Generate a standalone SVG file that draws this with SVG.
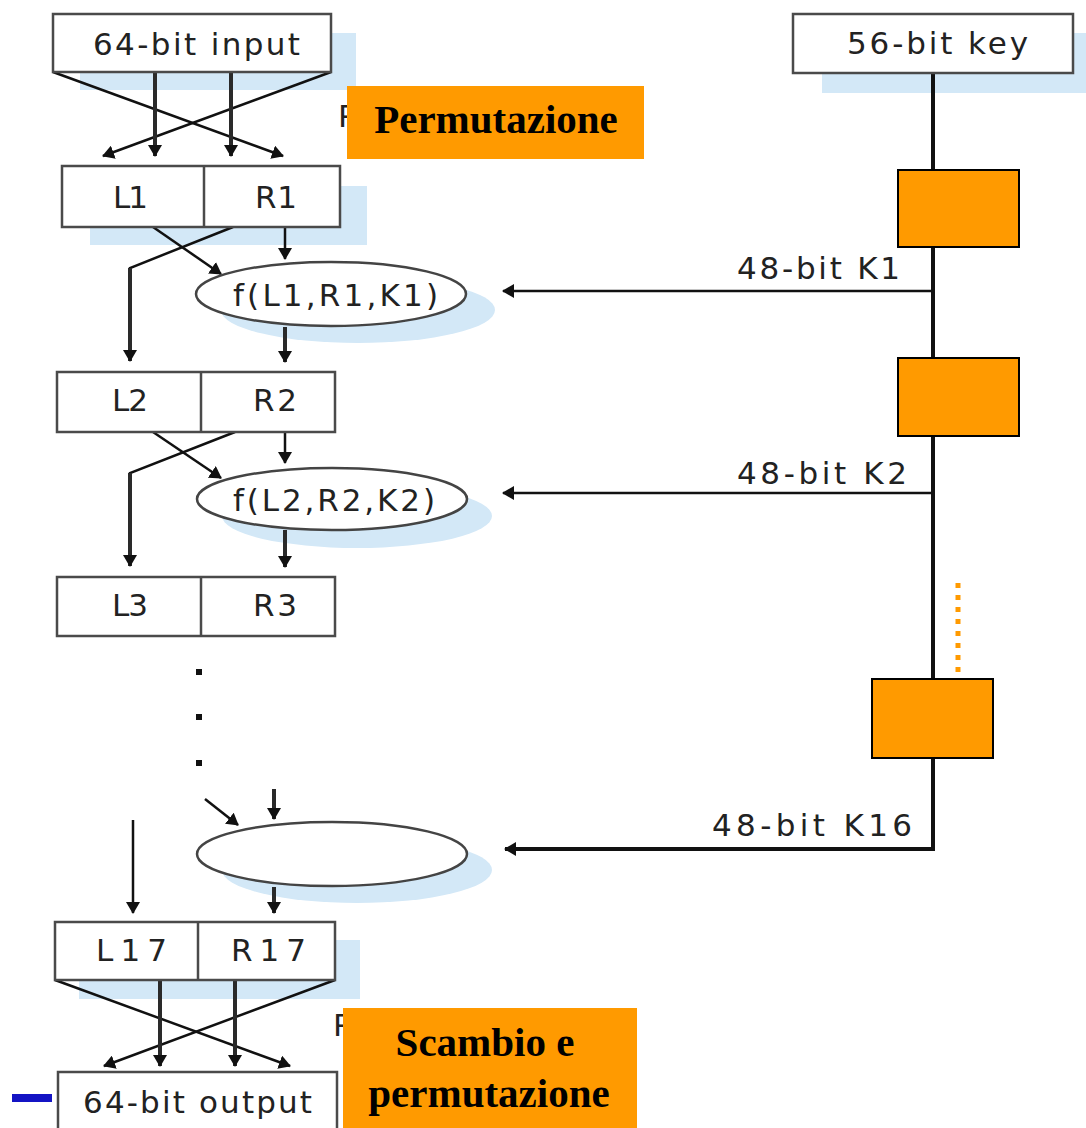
<svg xmlns="http://www.w3.org/2000/svg" width="1086" height="1128" viewBox="0 0 1086 1128">
  <style>
    .shadow { fill: #d3e8f7; stroke: none; }
    .box { fill: #ffffff; stroke: #4a4a4a; stroke-width: 2.5; }
    .fn { fill: #ffffff; stroke: #444; stroke-width: 2.5; }
    .lbl { font-family: "DejaVu Sans", "Liberation Sans", sans-serif; font-size: 31px; fill: #222; }
    .wire { fill: none; stroke: #111; stroke-width: 2.5; }
    .bus { fill: none; stroke: #2a2a2a; stroke-width: 4; }
    .key { fill: none; stroke: #111; stroke-width: 4; }
    .note { fill: #ff9a00; }
    .keybox { fill: #ff9a00; stroke: #000; stroke-width: 2; }
    .notetxt { font-family: "Liberation Serif", "Times New Roman", serif; font-weight: bold; font-size: 41px; fill: #000; }
  </style>
  <defs>
    <marker id="tip" markerUnits="userSpaceOnUse" markerWidth="12" markerHeight="14" refX="11" refY="7" orient="auto">
      <path d="M0,0 L12,7 L0,14 z" fill="#111"/>
    </marker>
  </defs>

  <!-- drop shadows -->
  <g id="shadows">
    <rect class="shadow" x="80" y="33" width="276" height="57"/>
    <rect class="shadow" x="90" y="186" width="277" height="59"/>
    <rect class="shadow" x="822" y="33" width="264" height="60"/>
    <ellipse class="shadow" cx="358" cy="310" rx="137" ry="33"/>
    <ellipse class="shadow" cx="357" cy="516" rx="135" ry="32"/>
    <ellipse class="shadow" cx="357" cy="870" rx="135" ry="33"/>
    <rect class="shadow" x="79" y="940" width="281" height="59"/>
  </g>

  <!-- connectors -->
  <g id="connectors">
    <!-- initial permutation -->
    <line class="wire" x1="53" y1="72" x2="283" y2="156" marker-end="url(#tip)"/>
    <line class="wire" x1="331" y1="72" x2="103" y2="156" marker-end="url(#tip)"/>
    <line class="bus" x1="155" y1="72" x2="155" y2="156" marker-end="url(#tip)"/>
    <line class="bus" x1="231" y1="72" x2="231" y2="156" marker-end="url(#tip)"/>
    <!-- round 1 -->
    <line class="wire" x1="153" y1="227" x2="221" y2="274" marker-end="url(#tip)"/>
    <polyline class="wire" points="233,227 130,268 130,290"/>
    <line class="bus" x1="130" y1="268" x2="130" y2="361" marker-end="url(#tip)"/>
    <line class="wire" x1="285" y1="227" x2="285" y2="259" marker-end="url(#tip)"/>
    <line class="bus" x1="285" y1="327" x2="285" y2="362" marker-end="url(#tip)"/>
    <!-- round 2 -->
    <line class="wire" x1="153" y1="432" x2="221" y2="478" marker-end="url(#tip)"/>
    <polyline class="wire" points="235,432 130,473 130,495"/>
    <line class="bus" x1="130" y1="473" x2="130" y2="566" marker-end="url(#tip)"/>
    <line class="wire" x1="285" y1="432" x2="285" y2="463" marker-end="url(#tip)"/>
    <line class="bus" x1="285" y1="530" x2="285" y2="567" marker-end="url(#tip)"/>
    <!-- round 16 -->
    <line class="wire" x1="205" y1="799" x2="238" y2="825" marker-end="url(#tip)"/>
    <line class="bus" x1="274" y1="789" x2="274" y2="819" marker-end="url(#tip)"/>
    <line class="wire" x1="133" y1="820" x2="133" y2="913" marker-end="url(#tip)"/>
    <line class="bus" x1="274" y1="887" x2="274" y2="913" marker-end="url(#tip)"/>
    <!-- swap and final permutation -->
    <line class="wire" x1="55" y1="980" x2="290" y2="1066" marker-end="url(#tip)"/>
    <line class="wire" x1="335" y1="980" x2="104" y2="1066" marker-end="url(#tip)"/>
    <line class="bus" x1="160" y1="980" x2="160" y2="1066" marker-end="url(#tip)"/>
    <line class="bus" x1="235" y1="980" x2="235" y2="1066" marker-end="url(#tip)"/>
    <!-- key schedule -->
    <polyline class="key" points="933,73 933,849 505,849" marker-end="url(#tip)"/>
    <line class="wire" x1="933" y1="291" x2="503" y2="291" marker-end="url(#tip)"/>
    <line class="wire" x1="933" y1="493" x2="503" y2="493" marker-end="url(#tip)"/>
    <line stroke="#ff9a00" stroke-width="5" stroke-dasharray="5,7" x1="958" y1="583" x2="958" y2="677"/>
    <!-- ellipsis dots -->
    <rect x="196" y="669" width="6" height="6" fill="#111"/>
    <rect x="196" y="714" width="6" height="6" fill="#111"/>
    <rect x="196" y="760" width="6" height="6" fill="#111"/>
  </g>

  <g id="input">
    <rect class="box" x="53" y="14" width="278" height="58"/>
    <text class="lbl" x="93" y="55" textLength="207" lengthAdjust="spacing">64-bit input</text>
  </g>

  <g id="key">
    <rect class="box" x="793" y="14" width="280" height="59"/>
    <text class="lbl" x="847" y="54" textLength="181" lengthAdjust="spacing">56-bit key</text>
  </g>

  <g id="lr1">
    <rect class="box" x="62" y="166" width="278" height="61"/>
    <line stroke="#4a4a4a" stroke-width="2.5" x1="204" y1="166" x2="204" y2="227"/>
    <text class="lbl" x="113" y="208" textLength="35" lengthAdjust="spacing">L1</text>
    <text class="lbl" x="255" y="208" textLength="42" lengthAdjust="spacing">R1</text>
  </g>

  <g id="f1">
    <ellipse class="fn" cx="331" cy="294" rx="135" ry="32"/>
    <text class="lbl" x="233" y="306" textLength="205" lengthAdjust="spacing">f(L1,R1,K1)</text>
  </g>

  <g id="lr2">
    <rect class="box" x="57" y="372" width="278" height="60"/>
    <line stroke="#4a4a4a" stroke-width="2.5" x1="201" y1="372" x2="201" y2="432"/>
    <text class="lbl" x="112" y="411" textLength="36" lengthAdjust="spacing">L2</text>
    <text class="lbl" x="253" y="411" textLength="44" lengthAdjust="spacing">R2</text>
  </g>

  <g id="f2">
    <ellipse class="fn" cx="332" cy="499" rx="135" ry="31"/>
    <text class="lbl" x="233" y="511" textLength="202" lengthAdjust="spacing">f(L2,R2,K2)</text>
  </g>

  <g id="lr3">
    <rect class="box" x="57" y="577" width="278" height="59"/>
    <line stroke="#4a4a4a" stroke-width="2.5" x1="201" y1="577" x2="201" y2="636"/>
    <text class="lbl" x="112" y="616" textLength="36" lengthAdjust="spacing">L3</text>
    <text class="lbl" x="253" y="616" textLength="44" lengthAdjust="spacing">R3</text>
  </g>

  <g id="f16">
    <ellipse class="fn" cx="332" cy="854" rx="135" ry="32"/>
  </g>

  <g id="lr17">
    <rect class="box" x="55" y="922" width="280" height="58"/>
    <line stroke="#4a4a4a" stroke-width="2.5" x1="198" y1="922" x2="198" y2="980"/>
    <text class="lbl" x="96" y="961" textLength="71" lengthAdjust="spacing">L17</text>
    <text class="lbl" x="231" y="961" textLength="75" lengthAdjust="spacing">R17</text>
  </g>

  <g id="output">
    <rect class="box" x="58" y="1072" width="279" height="70"/>
    <text class="lbl" x="83" y="1113" textLength="229" lengthAdjust="spacing">64-bit output</text>
    <rect x="12" y="1094" width="40" height="8" fill="#1414c4"/>
  </g>

  <g id="subkeys">
    <text class="lbl" x="737" y="279" textLength="163" lengthAdjust="spacing">48-bit K1</text>
    <text class="lbl" x="737" y="484" textLength="170" lengthAdjust="spacing">48-bit K2</text>
    <text class="lbl" x="712" y="836" textLength="200" lengthAdjust="spacing">48-bit K16</text>
  </g>

  <g id="keyround1"><rect class="keybox" x="898" y="170" width="121" height="77"/></g>
  <g id="keyround2"><rect class="keybox" x="898" y="358" width="121" height="78"/></g>
  <g id="keyround16"><rect class="keybox" x="872" y="679" width="121" height="79"/></g>

  <g id="note-permutation">
    <text class="lbl" x="338" y="127" font-size="26">P</text>
    <rect class="note" x="347" y="86" width="297" height="73"/>
    <text class="notetxt" x="496" y="133" text-anchor="middle">Permutazione</text>
  </g>

  <g id="note-swap">
    <text class="lbl" x="333" y="1036" font-size="26">P</text>
    <rect class="note" x="343" y="1008" width="294" height="120"/>
    <text class="notetxt" x="485" y="1056" text-anchor="middle">Scambio e</text>
    <text class="notetxt" x="489" y="1107" text-anchor="middle">permutazione</text>
  </g>
</svg>
